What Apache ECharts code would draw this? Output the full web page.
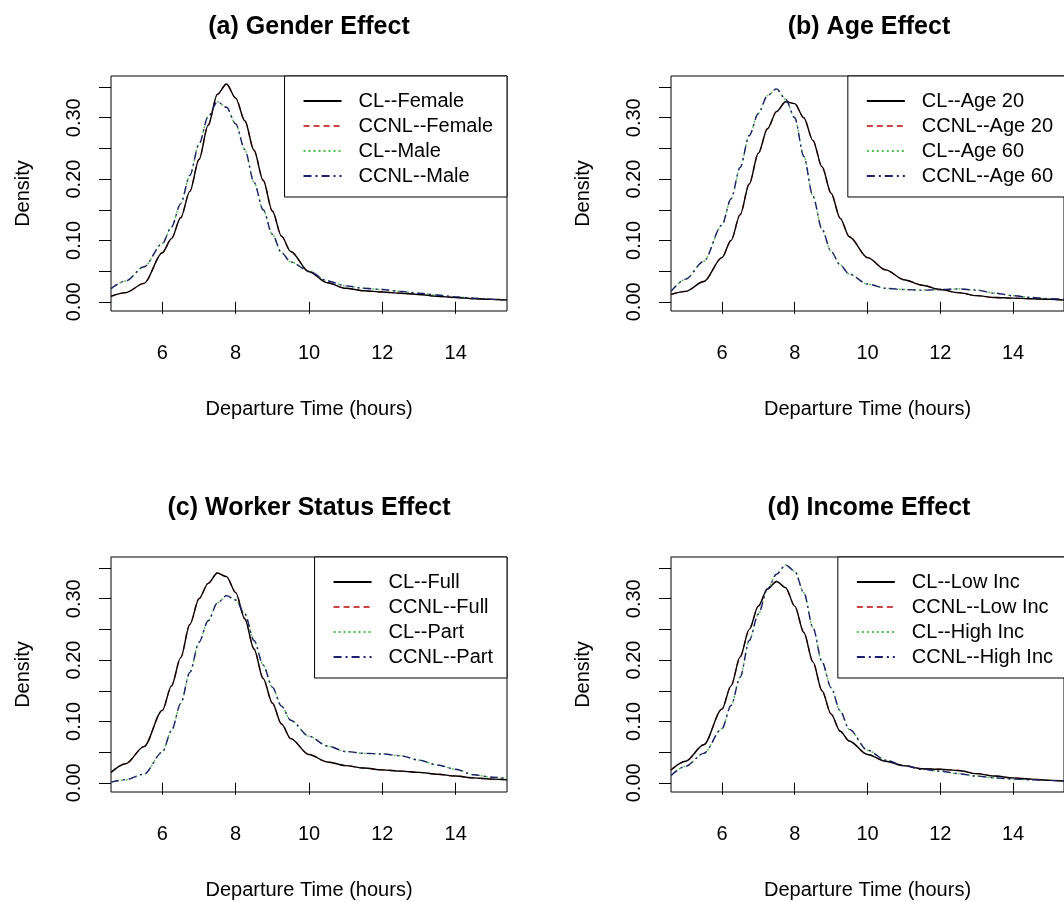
<!DOCTYPE html>
<html>
<head>
<meta charset="utf-8">
<title>Departure time densities</title>
<script src="https://cdn.jsdelivr.net/npm/echarts@6/dist/echarts.min.js"></script>
<style>
  html, body { margin:0; padding:0; background:#fff; }
  #chart { width:1064px; height:902px; }
</style>
</head>
<body>
<div id="chart"></div>
<script>
// departure time grid (hours)
const hours = [4.6, 5, 5.5, 6, 6.25, 6.5, 6.75, 7, 7.25, 7.5, 7.75, 8, 8.25, 8.5, 8.75,
               9, 9.25, 9.5, 10, 10.5, 11, 11.5, 12, 12.5, 13, 13.5, 14, 14.5, 15, 15.4]

// densities (CL and CCNL curves coincide)
const female  = [0.009, 0.015, 0.030, 0.080, 0.103, 0.137, 0.180, 0.232, 0.288, 0.338, 0.355, 0.332, 0.295, 0.247, 0.198,
                 0.148, 0.107, 0.082, 0.049, 0.031, 0.022, 0.018, 0.016, 0.014, 0.012, 0.009, 0.007, 0.005, 0.004, 0.003]
const male    = [0.0215, 0.034, 0.057, 0.095, 0.122, 0.160, 0.206, 0.257, 0.302, 0.326, 0.317, 0.290, 0.248, 0.195, 0.150,
                 0.110, 0.080, 0.065, 0.050, 0.034, 0.026, 0.022, 0.020, 0.017, 0.014, 0.011, 0.008, 0.006, 0.004, 0.003]
const age20   = [0.012, 0.017, 0.033, 0.072, 0.100, 0.142, 0.192, 0.242, 0.282, 0.310, 0.326, 0.323, 0.300, 0.263, 0.220,
                 0.177, 0.136, 0.106, 0.072, 0.052, 0.036, 0.027, 0.020, 0.015, 0.010, 0.007, 0.006, 0.005, 0.004, 0.003]
const age60   = [0.017, 0.037, 0.066, 0.125, 0.168, 0.219, 0.271, 0.307, 0.336, 0.347, 0.330, 0.300, 0.237, 0.172, 0.118,
                 0.082, 0.060, 0.045, 0.029, 0.022, 0.020, 0.019, 0.020, 0.021, 0.019, 0.014, 0.010, 0.007, 0.005, 0.004]
const full    = [0.017, 0.031, 0.059, 0.118, 0.158, 0.204, 0.258, 0.300, 0.325, 0.342, 0.336, 0.310, 0.267, 0.218, 0.170,
                 0.130, 0.096, 0.072, 0.046, 0.034, 0.028, 0.024, 0.021, 0.019, 0.017, 0.014, 0.011, 0.008, 0.006, 0.005]
const part    = [0.001, 0.005, 0.014, 0.050, 0.085, 0.129, 0.180, 0.229, 0.264, 0.293, 0.305, 0.298, 0.275, 0.232, 0.192,
                 0.156, 0.125, 0.102, 0.076, 0.060, 0.051, 0.048, 0.047, 0.044, 0.037, 0.029, 0.022, 0.013, 0.009, 0.007]
const lowInc  = [0.021, 0.035, 0.062, 0.120, 0.158, 0.205, 0.250, 0.288, 0.316, 0.328, 0.318, 0.288, 0.245, 0.197, 0.150,
                 0.112, 0.084, 0.068, 0.046, 0.035, 0.028, 0.023, 0.022, 0.020, 0.015, 0.011, 0.008, 0.006, 0.004, 0.003]
const highInc = [0.012, 0.027, 0.048, 0.088, 0.126, 0.172, 0.232, 0.275, 0.316, 0.340, 0.355, 0.345, 0.310, 0.253, 0.197,
                 0.155, 0.117, 0.087, 0.053, 0.037, 0.028, 0.022, 0.019, 0.015, 0.011, 0.008, 0.006, 0.005, 0.004, 0.003]

const xTicks  = [6, 8, 10, 12, 14]
const yTicks  = [0, 0.05, 0.1, 0.15, 0.2, 0.25, 0.3, 0.35]
const yLabels = [0, 0.1, 0.2, 0.3]

const panels = [
  { title:'(a) Gender Effect',        a:'Female', b:'Male',     da:female, db:male,    left:111, top:76 },
  { title:'(b) Age Effect',           a:'Age 20', b:'Age 60',   da:age20,  db:age60,   left:671, top:76 },
  { title:'(c) Worker Status Effect', a:'Full',   b:'Part',     da:full,   db:part,    left:111, top:557 },
  { title:'(d) Income Effect',        a:'Low Inc', b:'High Inc', da:lowInc, db:highInc, left:671, top:557 }
]

const FONT = 'Liberation Sans, Arial, sans-serif'
const W = 396, H = 235
const pairs = arr => hours.map((h, i) => [h, arr[i]])

const option = {
  animation:false,
  backgroundColor:'#fff',
  textStyle:{ fontFamily:FONT },
  title:[], grid:[], xAxis:[], yAxis:[], legend:[], series:[]
}

panels.forEach((p, i) => {
  option.title.push({
    text:p.title, left:p.left + W / 2, top:p.top - 61, textAlign:'center', padding:0,
    textStyle:{ fontSize:25, fontWeight:'bold', color:'#000', fontFamily:FONT }
  })
  option.grid.push({
    left:p.left, top:p.top, width:W, height:H,
    show:true, borderColor:'#000', borderWidth:1, backgroundColor:'transparent'
  })
  option.xAxis.push({
    gridIndex:i, type:'value', min:4.6, max:15.4,
    axisLine:{ show:false },
    axisTick:{ show:true, length:12, customValues:xTicks, lineStyle:{ color:'#000' } },
    axisLabel:{ customValues:xTicks, margin:32, fontSize:20, color:'#000', fontFamily:FONT },
    splitLine:{ show:false },
    name:'Departure Time (hours)', nameLocation:'middle', nameGap:88,
    nameTextStyle:{ fontSize:20, color:'#000', fontFamily:FONT }
  })
  option.yAxis.push({
    gridIndex:i, type:'value', min:-0.015, max:0.368,
    axisLine:{ show:false },
    axisTick:{ show:true, length:12, customValues:yTicks, lineStyle:{ color:'#000' } },
    axisLabel:{ customValues:yLabels, rotate:90, margin:27, fontSize:20, color:'#000', fontFamily:FONT,
                formatter:v => v.toFixed(2) },
    splitLine:{ show:false },
    name:'Density', nameLocation:'middle', nameGap:78,
    nameTextStyle:{ fontSize:20, color:'#000', fontFamily:FONT }
  })

  const names = ['CL--' + p.a, 'CCNL--' + p.a, 'CL--' + p.b, 'CCNL--' + p.b]
  option.legend.push({
    data:names, orient:'vertical', right:1064 - (p.left + W), top:p.top,
    itemWidth:38, itemHeight:14, itemGap:5, selectedMode:false,
    itemStyle:{ opacity:0 },
    padding:[15, 14, 11, 18],
    backgroundColor:'#fff', borderColor:'#000', borderWidth:1, borderRadius:0,
    textStyle:{ fontSize:20, lineHeight:20, color:'#000', fontFamily:FONT, padding:[0, 0, 0, 12] }
  })

  const line = (name, data, color, type, z) => ({
    name, type:'line', xAxisIndex:i, yAxisIndex:i, data:pairs(data),
    showSymbol:false, symbol:'none', smooth:0.3, smoothMonotone:'x', z,
    color, lineStyle:{ color, width:1.4, type }
  })
  option.series.push(
    line(names[1], p.da, '#cc4444', [6, 4], 2),
    line(names[0], p.da, '#000000', 'solid', 3),
    line(names[2], p.db, '#4fc24f', [2, 3], 2),
    line(names[3], p.db, '#1e1e6e', [8, 4, 2, 4], 3)
  )
})

const chart = echarts.init(document.getElementById('chart'), null, { renderer:'canvas' })
chart.setOption(option)
</script>
</body>
</html>
